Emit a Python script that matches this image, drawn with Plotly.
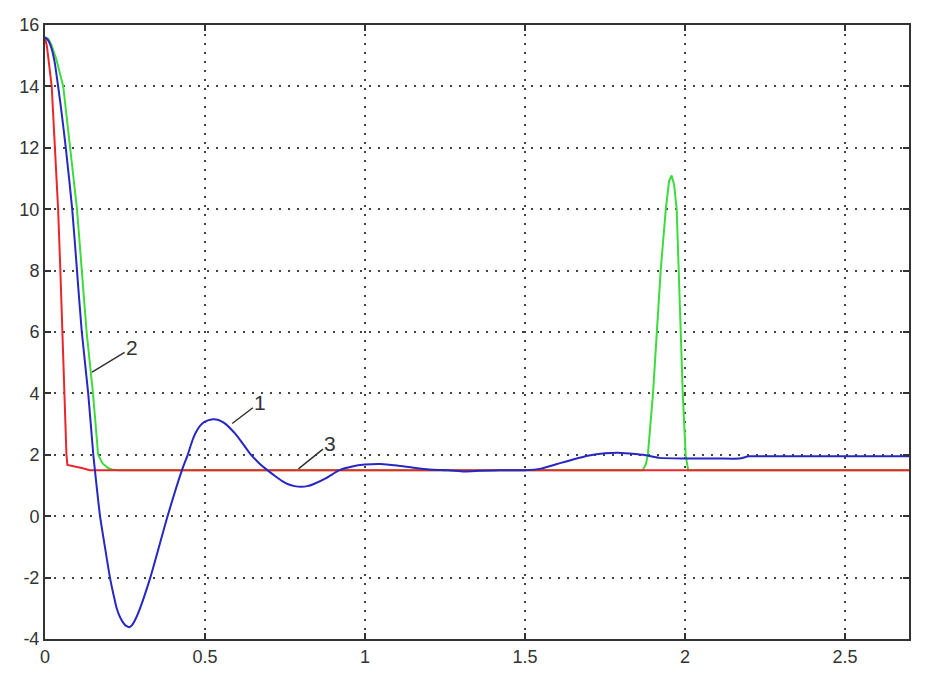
import plotly.graph_objects as go

# Curve 1 (blue)
t1 = [0, 0.01, 0.02, 0.03, 0.041, 0.05, 0.065, 0.085, 0.1, 0.115, 0.135, 0.151, 0.156, 0.172, 0.188,
      0.203, 0.214, 0.224, 0.235, 0.248, 0.258, 0.263, 0.272, 0.283, 0.297, 0.329, 0.383, 0.428,
      0.446, 0.46, 0.47, 0.485, 0.50, 0.52, 0.535, 0.55, 0.565, 0.58, 0.595, 0.61, 0.64, 0.67,
      0.695, 0.72, 0.74, 0.76, 0.78, 0.80, 0.82, 0.84, 0.88, 0.92, 0.96, 1.0, 1.05, 1.1, 1.15,
      1.2, 1.26, 1.31, 1.36, 1.42, 1.5, 1.55, 1.6, 1.65, 1.7, 1.75, 1.79, 1.83, 1.87, 1.92, 2.0,
      2.1, 2.17, 2.2, 2.3, 2.5, 2.7]
v1 = [15.6, 15.5, 15.25, 14.8, 14.0, 13.3, 12.0, 10.0, 8.0, 6.0, 4.0, 2.0, 1.5, 0.0, -1.05,
      -2.0, -2.55, -3.0, -3.3, -3.52, -3.6, -3.62, -3.55, -3.35, -3.0, -2.0, 0.0, 1.5,
      2.0, 2.45, 2.7, 2.95, 3.08, 3.15, 3.15, 3.1, 3.0, 2.85, 2.68, 2.48, 2.05, 1.72,
      1.5, 1.3, 1.15, 1.04, 0.98, 0.96, 0.98, 1.05, 1.25, 1.5, 1.62, 1.68, 1.7, 1.65, 1.58,
      1.52, 1.5, 1.46, 1.48, 1.5, 1.5, 1.55, 1.7, 1.85, 1.98, 2.05, 2.07, 2.04, 2.0, 1.9, 1.88,
      1.88, 1.88, 1.95, 1.95, 1.95, 1.95]

# Curve 2 (green)
t2 = [0, 0.01, 0.02, 0.035, 0.057, 0.078, 0.10, 0.115, 0.13, 0.15, 0.166, 0.18, 0.197, 0.213, 0.23,
      1.868, 1.878, 1.884, 1.90, 1.912, 1.924, 1.94, 1.95, 1.958, 1.966, 1.974, 1.98, 1.987, 1.993,
      2.002, 2.01, 2.7]
v2 = [15.6, 15.55, 15.35, 14.9, 14.0, 12.0, 10.0, 8.0, 6.0, 4.0, 2.0, 1.72, 1.57, 1.51, 1.5,
      1.5, 1.7, 2.0, 4.0, 6.0, 8.0, 10.0, 10.9, 11.1, 10.8, 10.0, 8.0, 6.0, 4.0,
      2.0, 1.5, 1.5]

# Curve 3 (red)
t3 = [0, 0.006, 0.021, 0.031, 0.041, 0.048, 0.054, 0.06, 0.064, 0.067, 0.07, 0.09, 0.115, 0.14, 2.7]
v3 = [15.6, 15.3, 14.0, 12.0, 10.0, 8.0, 6.0, 4.0, 2.8, 2.0, 1.67, 1.63, 1.57, 1.5, 1.5]

x_ticks = [0, 0.5, 1, 1.5, 2, 2.5]
x_labels = ["0", "0.5", "1", "1.5", "2", "2.5"]
y_ticks = [-4, -2, 0, 2, 4, 6, 8, 10, 12, 14, 16]
y_labels = ["-4", "-2", "0", "2", "4", "6", "8", "10", "12", "14", "16"]

# Curve labels: (text, tip_x, tip_y, text_x, text_y)
labels = [
    ("1", 0.585, 3.02, 0.673, 3.72),
    ("2", 0.147, 4.69, 0.272, 5.49),
    ("3", 0.792, 1.54, 0.892, 2.38),
]

fig = go.Figure()
fig.add_trace(go.Scatter(x=t2, y=v2, mode="lines", line=dict(color="#3ddc3d", width=2), showlegend=False))
fig.add_trace(go.Scatter(x=t3, y=v3, mode="lines", line=dict(color="#e8262b", width=2), showlegend=False))
fig.add_trace(go.Scatter(x=t1, y=v1, mode="lines", line=dict(color="#2727c4", width=2, shape="spline", smoothing=0.6),
                         showlegend=False))

for txt, xt, yt, xl, yl in labels:
    fig.add_annotation(x=xt, y=yt, ax=xl, ay=yl, xref="x", yref="y", axref="x", ayref="y",
                       text=txt, showarrow=True, arrowhead=0, arrowwidth=1.5, arrowcolor="#333333",
                       standoff=0, font=dict(family="Liberation Sans", size=21, color="#333333"))

axis_common = dict(showgrid=True, gridcolor="#444444", griddash="2px,7px", gridwidth=1.5,
                   showline=True, linecolor="#333333", linewidth=2, mirror="ticks",
                   ticks="inside", ticklen=6, tickcolor="#333333", tickwidth=1.5,
                   ticklabeloverflow="allow",
                   zeroline=False, tickfont=dict(family="Liberation Sans", size=18, color="#333333"))

fig.update_xaxes(range=[0, 2.7], tickvals=x_ticks, ticktext=x_labels, **axis_common)
fig.update_yaxes(range=[-4, 16], tickvals=y_ticks, ticktext=y_labels, **axis_common)

fig.update_layout(width=934, height=682, margin=dict(l=37, r=33, t=7, b=51),
                  plot_bgcolor="white", paper_bgcolor="white")

fig.write_html("out.html")
